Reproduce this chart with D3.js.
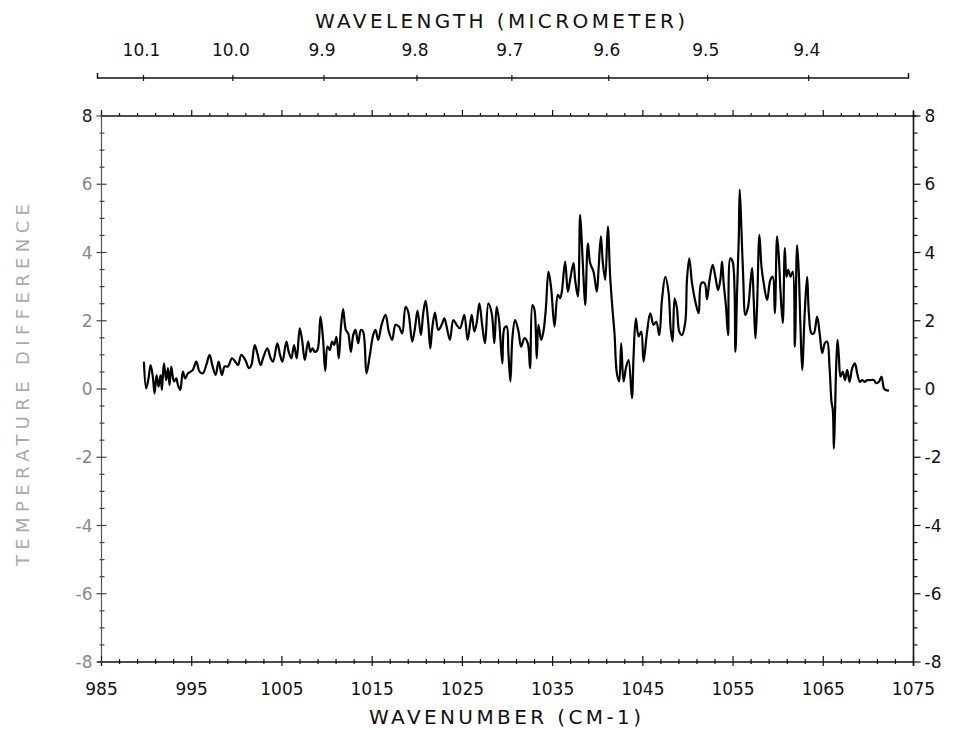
<!DOCTYPE html>
<html>
<head>
<meta charset="utf-8">
<script src="https://cdn.jsdelivr.net/npm/d3@7"></script>
<style>
  html, body { margin: 0; padding: 0; background: #fff; }
  svg { display: block; }
  text { font-family: "DejaVu Sans", sans-serif; fill: #111; }
</style>
</head>
<body>
<svg id="chart" width="960" height="730"></svg>
<script>
// ---------------- data ----------------
const wavenumber = [
 989.70,989.95,990.21,990.44,990.69,990.88,991.10,991.32,991.55,991.69,991.92,992.17,992.36,992.54,992.73,993.03,993.28,993.47,993.73,994.02,
 994.28,994.58,994.88,995.13,995.50,995.87,996.24,996.61,996.98,997.28,997.65,997.98,998.35,998.65,999.02,999.46,999.83,1000.13,1000.50,1000.94,
 1001.35,1001.61,1001.98,1002.27,1002.64,1002.90,1003.38,1003.75,1004.01,1004.49,1004.79,1005.05,1005.49,1005.75,1006.05,1006.34,1006.64,1006.97,1007.23,1007.53,
 1007.90,1008.16,1008.38,1008.64,1008.93,1009.27,1009.56,1009.80,1010.05,1010.30,1010.56,1010.79,1011.04,1011.30,1011.53,1011.78,1012.08,1012.34,1012.64,1012.90,
 1013.15,1013.45,1013.75,1014.00,1014.37,1014.74,1015.11,1015.37,1015.67,1016.04,1016.48,1016.85,1017.22,1017.59,1017.96,1018.33,1018.70,1018.99,1019.44,1019.74,
 1020.03,1020.40,1020.66,1020.92,1021.22,1021.44,1021.66,1021.96,1022.33,1022.70,1023.00,1023.25,1023.62,1023.99,1024.36,1024.73,1025.21,1025.58,1026.03,1026.32,
 1026.58,1026.88,1027.21,1027.51,1027.88,1028.25,1028.54,1028.80,1029.06,1029.43,1029.65,1029.91,1030.10,1030.32,1030.54,1030.84,1031.21,1031.51,1031.88,1032.25,
 1032.50,1032.76,1032.99,1033.24,1033.43,1033.73,1033.98,1034.24,1034.54,1034.84,1035.21,1035.58,1035.83,1036.02,1036.39,1036.69,1036.94,1037.31,1037.50,1037.80,
 1038.05,1038.24,1038.42,1038.61,1038.91,1039.16,1039.53,1039.90,1040.09,1040.35,1040.57,1040.83,1041.12,1041.38,1041.64,1041.86,1042.12,1042.38,1042.60,1042.86,
 1043.12,1043.42,1043.79,1043.97,1044.23,1044.53,1044.82,1045.08,1045.45,1045.82,1046.19,1046.49,1046.82,1047.12,1047.49,1047.86,1048.08,1048.30,1048.52,1048.78,
 1049.04,1049.34,1049.71,1049.89,1050.15,1050.45,1050.82,1051.19,1051.48,1051.85,1052.11,1052.37,1052.74,1053.04,1053.34,1053.59,1053.78,1053.96,1054.22,1054.45,
 1054.70,1054.96,1055.26,1055.44,1055.63,1055.74,1055.93,1056.11,1056.37,1056.67,1056.92,1057.11,1057.29,1057.48,1057.66,1057.92,1058.15,1058.40,1058.77,1059.14,
 1059.40,1059.63,1059.88,1060.07,1060.25,1060.51,1060.74,1060.92,1061.11,1061.37,1061.62,1061.85,1062.10,1062.29,1062.47,1062.66,1062.95,1063.21,1063.40,1063.69,
 1063.95,1064.32,1064.62,1064.88,1065.17,1065.43,1065.69,1065.91,1066.06,1066.17,1066.28,1066.43,1066.58,1066.73,1066.91,1067.17,1067.40,1067.65,1067.91,1068.21,
 1068.50,1068.76,1069.06,1069.32,1069.61,1069.87,1070.24,1070.61,1070.87,1071.17,1071.46,1071.72,1071.91,1072.28
];
const tempDiff = [
 0.80,0.02,0.31,0.70,0.36,-0.13,0.41,0.07,0.41,-0.03,0.75,0.26,0.61,0.12,0.66,0.22,0.31,0.12,-0.03,0.51,
 0.31,0.46,0.51,0.56,0.80,0.51,0.46,0.70,1.00,0.70,0.41,0.80,0.41,0.66,0.66,0.90,0.80,0.70,1.00,0.85,
 0.61,0.70,1.29,1.05,0.70,0.90,1.19,0.90,0.80,1.34,1.00,0.80,1.39,1.09,0.90,1.29,0.90,1.78,1.44,0.85,
 1.39,1.09,1.19,1.09,1.14,2.12,1.44,0.53,1.24,1.14,1.39,1.29,1.53,0.90,1.78,2.34,1.73,1.63,1.09,1.58,
 1.73,1.34,1.73,1.68,0.46,0.99,1.58,1.73,1.44,1.88,2.17,1.68,1.44,1.88,1.83,1.63,2.41,2.27,1.39,1.78,
 2.30,1.58,2.22,2.59,1.93,1.19,1.78,2.24,1.73,1.88,2.07,1.83,1.44,2.02,1.88,1.78,2.17,1.44,2.17,1.68,
 1.93,2.51,1.83,1.34,2.51,2.22,1.34,2.41,2.02,0.75,1.78,1.83,1.05,0.22,1.49,2.02,1.70,1.24,1.49,1.34,
 0.61,2.46,2.32,0.90,1.88,1.44,1.68,2.32,3.44,2.95,1.83,2.76,2.66,2.85,3.73,2.85,3.20,3.69,3.20,2.71,
 5.10,4.27,3.29,2.46,4.27,3.69,3.44,2.85,3.49,4.47,3.69,3.20,4.76,3.29,2.32,1.63,0.46,0.22,1.34,0.22,
 0.61,0.85,-0.27,0.95,2.07,1.54,1.68,0.80,1.63,2.22,1.88,1.97,1.58,2.61,3.29,2.81,1.78,1.39,2.66,2.37,
 1.68,1.58,1.97,3.20,3.83,3.10,2.56,2.22,3.10,3.10,2.63,3.15,3.64,3.29,2.90,3.20,3.73,3.10,2.41,1.58,
 3.83,3.73,1.09,2.81,4.37,5.84,4.66,3.39,2.17,2.41,3.10,3.54,2.61,1.48,2.41,4.52,3.59,3.10,2.61,3.20,
 3.29,2.22,4.47,3.88,2.90,1.93,4.13,3.29,3.49,3.29,3.44,1.24,4.22,3.39,1.83,0.56,2.27,3.29,2.22,1.63,
 1.63,2.12,1.58,1.05,1.34,1.39,0.66,-0.37,-0.62,-1.75,-0.91,0.66,1.44,0.95,0.36,0.51,0.26,0.56,0.21,0.61,
 0.75,0.46,0.21,0.26,0.21,0.26,0.26,0.26,0.17,0.21,0.36,0.02,-0.03,-0.05
];
const xTickLabels = [985, 995, 1005, 1015, 1025, 1035, 1045, 1055, 1065, 1075];
const yTickLabels = [8, 6, 4, 2, 0, -2, -4, -6, -8];
const wavelengthTicks = ["10.1", "10.0", "9.9", "9.8", "9.7", "9.6", "9.5", "9.4"];
const xTitle = "WAVENUMBER (CM-1)";
const topTitle = "WAVELENGTH (MICROMETER)";
const yTitle = "TEMPERATURE DIFFERENCE";

// ---------------- drawing ----------------
const svg = d3.select("#chart");
const x = d3.scaleLinear().domain([985, 1075]).range([101.5, 913.5]);
const y = d3.scaleLinear().domain([-8, 8]).range([662, 116]);
const [x0, x1] = x.range();
const [yb, yt] = y.range();
const ink = "#111";
const fmt = d => d < 0 ? "-" + (-d) : String(d);

const g = svg.append("g");

// frame
g.append("line").attr("x1", x0).attr("x2", x1 + 3).attr("y1", yt).attr("y2", yt)
  .attr("stroke", ink).attr("stroke-width", 1.6);
g.append("line").attr("x1", x0 - 4).attr("x2", x1).attr("y1", yb).attr("y2", yb)
  .attr("stroke", ink).attr("stroke-width", 1.6);
g.append("line").attr("x1", x0).attr("x2", x0).attr("y1", yt - 4).attr("y2", yb + 4)
  .attr("stroke", "#555").attr("stroke-width", 1.2);
g.append("line").attr("x1", x1).attr("x2", x1).attr("y1", yt - 5).attr("y2", yb + 4)
  .attr("stroke", ink).attr("stroke-width", 1.6);

// x ticks (bottom & top edge of frame)
const xMinor = d3.range(985, 1075.01, 2).filter(v => !xTickLabels.includes(v));
const tk = g.append("g").attr("stroke", ink).attr("stroke-width", 1.2);
xTickLabels.forEach(v => {
  tk.append("line").attr("x1", x(v)).attr("x2", x(v)).attr("y1", yb - 6).attr("y2", yb + 4);
  tk.append("line").attr("x1", x(v)).attr("x2", x(v)).attr("y1", yt).attr("y2", yt - 6);
});
xMinor.forEach(v => {
  tk.append("line").attr("x1", x(v)).attr("x2", x(v)).attr("y1", yb - 3).attr("y2", yb + 2);
  tk.append("line").attr("x1", x(v)).attr("x2", x(v)).attr("y1", yt).attr("y2", yt - 3);
});

// y ticks (left & right)
const yMinor = d3.range(-8, 8.01, 0.5).filter(v => !yTickLabels.includes(v));
yTickLabels.forEach(v => {
  tk.append("line").attr("x1", x0 - 5).attr("x2", x0 + 5).attr("y1", y(v)).attr("y2", y(v)).attr("stroke", "#444");
  tk.append("line").attr("x1", x1).attr("x2", x1 + 7).attr("y1", y(v)).attr("y2", y(v));
});
yMinor.forEach(v => {
  tk.append("line").attr("x1", x0 - 2).attr("x2", x0 + 3).attr("y1", y(v)).attr("y2", y(v)).attr("stroke", "#444");
  tk.append("line").attr("x1", x1).attr("x2", x1 + 4).attr("y1", y(v)).attr("y2", y(v));
});

// bottom tick labels
g.selectAll(".xl").data(xTickLabels).enter().append("text")
  .attr("x", d => x(d)).attr("y", 695).attr("text-anchor", "middle")
  .attr("font-size", 17).text(d => d);
// right tick labels
g.selectAll(".yr").data(yTickLabels).enter().append("text")
  .attr("x", x1 + 11).attr("y", d => y(d) + 6).attr("text-anchor", "start")
  .attr("font-size", 17).text(fmt);
// left tick labels (faint in original)
g.selectAll(".yl").data(yTickLabels).enter().append("text")
  .attr("x", x0 - 9).attr("y", d => y(d) + 6).attr("text-anchor", "end")
  .attr("font-size", 17).style("fill", d => d === 8 ? "#222" : "#888")
  .text(fmt);

// titles
g.append("text").attr("x", 505).attr("y", 724).attr("text-anchor", "middle")
  .attr("font-size", 20).attr("textLength", 272).attr("lengthAdjust", "spacing").text(xTitle);
g.append("text").attr("x", 500).attr("y", 28).attr("text-anchor", "middle")
  .attr("font-size", 20).attr("textLength", 370).attr("lengthAdjust", "spacing").text(topTitle);
g.append("text").attr("transform", "translate(29,385) rotate(-90)").attr("text-anchor", "middle")
  .attr("font-size", 18).attr("textLength", 362).attr("lengthAdjust", "spacing")
  .style("fill", "#aaa").text(yTitle);

// top wavelength axis (offset slightly left in the original)
const topAxis = svg.append("g").attr("transform", "translate(-4,0)");
const ay = 78;
topAxis.append("path")
  .attr("d", `M${x0},${ay - 5}L${x0},${ay}L${x1 - 1},${ay}L${x1 - 1},${ay - 5}`)
  .attr("fill", "none").attr("stroke", ink).attr("stroke-width", 1.5);
wavelengthTicks.forEach(s => {
  const px = x(1e4 / (+s));
  topAxis.append("line").attr("x1", px).attr("x2", px).attr("y1", ay - 3).attr("y2", ay + 3)
    .attr("stroke", ink).attr("stroke-width", 1.2);
  topAxis.append("text").attr("x", px - 2).attr("y", 56).attr("text-anchor", "middle")
    .attr("font-size", 17).text(s);
});

// data line
const pts = wavenumber.map((w, i) => [w, tempDiff[i]]);
const line = d3.line().x(d => x(d[0])).y(d => y(d[1])).curve(d3.curveCatmullRom.alpha(0.5));
svg.append("path").datum(pts).attr("d", line)
  .attr("fill", "none").attr("stroke", "#000").attr("stroke-width", 2.2)
  .attr("stroke-linejoin", "round");
</script>
</body>
</html>
